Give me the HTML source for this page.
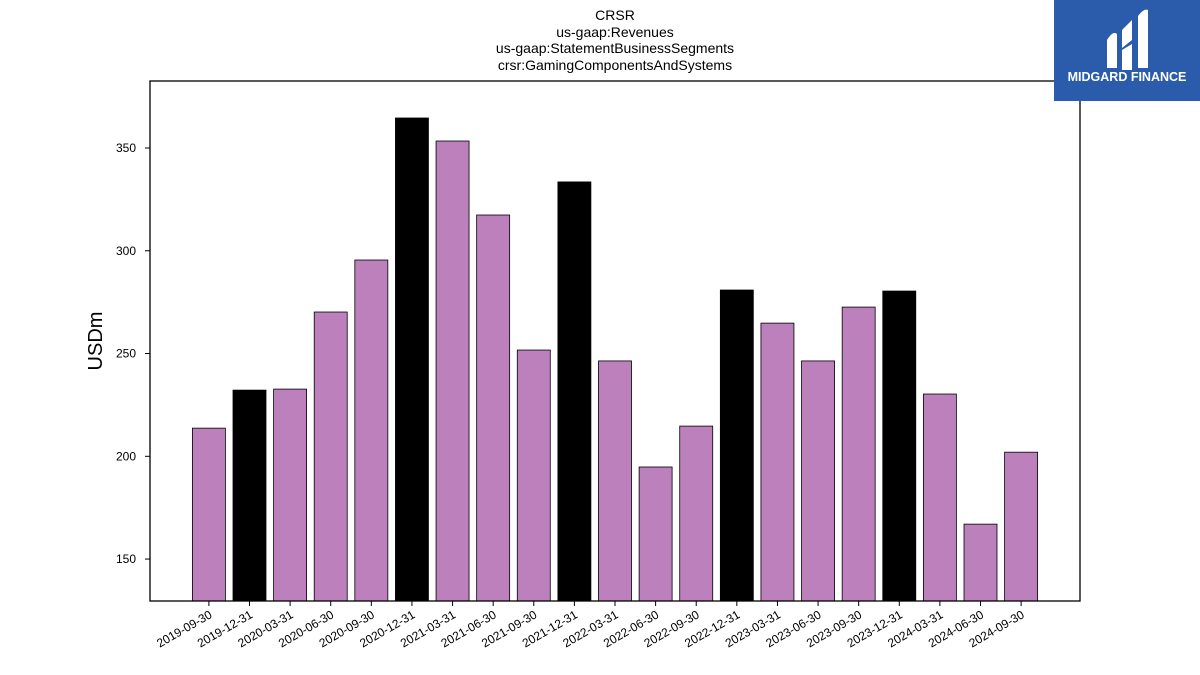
<!DOCTYPE html>
<html><head><meta charset="utf-8"><style>
body{margin:0;background:#fff;font-family:"Liberation Sans","DejaVu Sans",sans-serif;}
#wrap{position:relative;width:1200px;height:675px;overflow:hidden;}
</style></head><body>
<div id="wrap">
<svg id="chart" width="1200" height="675" xmlns="http://www.w3.org/2000/svg">
<g font-size="14" text-anchor="middle" fill="#000">
<text x="615" y="20">CRSR</text>
<text x="615" y="37">us-gaap:Revenues</text>
<text x="615" y="53">us-gaap:StatementBusinessSegments</text>
<text x="615" y="70">crsr:GamingComponentsAndSystems</text>
</g>
<g id="bars"></g>
<g id="yaxis"></g>
<g id="xaxis"></g>
<rect x="150" y="81" width="930" height="520" fill="none" stroke="#000" stroke-width="1.3"/>
<text x="102" y="341" font-size="20" text-anchor="middle" transform="rotate(-90 102 341)">USDm</text>
<g>
<rect x="1054" y="0" width="146" height="101" fill="#2b5bab"/>
<path d="M1107 40 q6-10 10-6 v34 h-10z M1122 30 l10-10 v20 l-10 8z M1122 50 l10-6 v26 h-10z M1138 16 q6-8 10-6 v58 h-10z" fill="#fff"/>
<text x="1127" y="81" font-size="12.5" font-weight="bold" fill="#fff" text-anchor="middle">MIDGARD FINANCE</text>
</g>
</svg>
</div>
<script>
const categories=["2019-09-30","2019-12-31","2020-03-31","2020-06-30","2020-09-30","2020-12-31","2021-03-31","2021-06-30","2021-09-30","2021-12-31","2022-03-31","2022-06-30","2022-09-30","2022-12-31","2023-03-31","2023-06-30","2023-09-30","2023-12-31","2024-03-31","2024-06-30","2024-09-30"];
const values=[213.7,232.2,232.7,270.2,295.5,364.6,353.4,317.4,251.7,333.5,246.4,194.8,214.7,280.9,264.8,246.4,272.6,280.4,230.3,167.0,202.0];
const highlight=[false,true,false,false,false,true,false,false,false,true,false,false,false,true,false,false,false,true,false,false,false];
const yTicks=[150,200,250,300,350];
const NS="http://www.w3.org/2000/svg";
const yMin=129.6,yMax=382.6,plotTop=81,plotBottom=601;
function y(v){return plotBottom-(v-yMin)/(yMax-yMin)*(plotBottom-plotTop);}
function x(i){return 150+(i+1.45)*(930/(categories.length+1.9));}
const bw=33;
const bars=document.getElementById('bars'),ya=document.getElementById('yaxis'),xa=document.getElementById('xaxis');
values.forEach((v,i)=>{
 const r=document.createElementNS(NS,'rect');
 r.setAttribute('x',x(i)-bw/2);r.setAttribute('y',y(v));
 r.setAttribute('width',bw);r.setAttribute('height',plotBottom-y(v));
 r.setAttribute('fill',highlight[i]?'#000':'#bc80bd');r.setAttribute('stroke','#000');r.setAttribute('stroke-width','0.8');
 
 
 bars.appendChild(r);
 const t=document.createElementNS(NS,'line');
 t.setAttribute('x1',x(i));t.setAttribute('x2',x(i));t.setAttribute('y1',plotBottom);t.setAttribute('y2',plotBottom+5);t.setAttribute('stroke','#000');
 
 
 xa.appendChild(t);
 const l=document.createElementNS(NS,'text');
 l.setAttribute('x',x(i)+4);l.setAttribute('y',plotBottom+16);l.setAttribute('font-size','12');l.setAttribute('text-anchor','end');
 l.setAttribute('transform','rotate(-30 '+(x(i)+4)+' '+(plotBottom+16)+')');
 l.textContent=categories[i];
 
 
 xa.appendChild(l);
});
yTicks.forEach(v=>{
 const t=document.createElementNS(NS,'line');
 t.setAttribute('x1',145);t.setAttribute('x2',150);t.setAttribute('y1',y(v));t.setAttribute('y2',y(v));t.setAttribute('stroke','#000');
 
 
 ya.appendChild(t);
 const l=document.createElementNS(NS,'text');
 l.setAttribute('x',136);l.setAttribute('y',y(v)+4);l.setAttribute('font-size','12');l.setAttribute('text-anchor','end');
 l.textContent=v;
 
 
 ya.appendChild(l);
});
</script>
</body></html>
